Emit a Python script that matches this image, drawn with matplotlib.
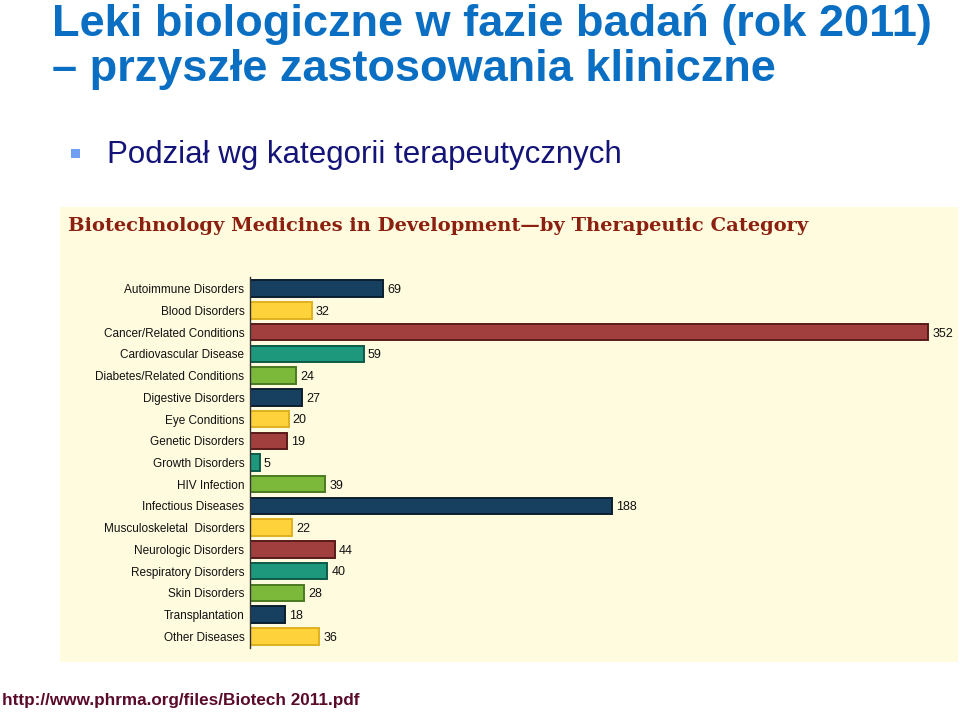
import matplotlib.pyplot as plt
from matplotlib.patches import Rectangle

categories = ["Autoimmune Disorders", "Blood Disorders", "Cancer/Related Conditions",
              "Cardiovascular Disease", "Diabetes/Related Conditions", "Digestive Disorders",
              "Eye Conditions", "Genetic Disorders", "Growth Disorders", "HIV Infection",
              "Infectious Diseases", "Musculoskeletal  Disorders", "Neurologic Disorders",
              "Respiratory Disorders", "Skin Disorders", "Transplantation", "Other Diseases"]
values = [69, 32, 352, 59, 24, 27, 20, 19, 5, 39, 188, 22, 44, 40, 28, 18, 36]

palette = ["#173f60", "#fdd23a", "#a13f3f", "#1d987c", "#7cb83a"]
edges = ["#0c1f30", "#e0b020", "#5a1a1a", "#0e5a48", "#4a7a20"]

W, H = 960, 713
fig = plt.figure(figsize=(W / 100, H / 100), dpi=100)
fig.patch.set_facecolor("white")

def fx(px):
    return px / W

def fy(py):
    return 1 - py / H

# cream panel behind the chart
fig.patches.append(Rectangle((fx(60), fy(662)), fx(958) - fx(60), fy(207) - fy(662),
                             transform=fig.transFigure, facecolor="#fffbde",
                             edgecolor="none", zorder=-5))

fig.text(fx(52), fy(36), "Leki biologiczne w fazie badań (rok 2011)", fontsize=32.5,
         fontweight="bold", color="#0a6fc2", family="Liberation Sans", va="baseline")
fig.text(fx(52), fy(81), "– przyszłe zastosowania kliniczne", fontsize=32.5,
         fontweight="bold", color="#0a6fc2", family="Liberation Sans", va="baseline")
fig.patches.append(Rectangle((fx(71), fy(158)), fx(9), 9 / H, transform=fig.transFigure,
                             facecolor="#6f9ff0", edgecolor="none"))
fig.text(fx(107), fy(163), "Podział wg kategorii terapeutycznych", fontsize=22.5,
         color="#141478", family="Liberation Sans", va="baseline")
fig.text(fx(68), fy(231), "Biotechnology Medicines in Development\u2014by Therapeutic Category",
         fontsize=14, fontweight="bold", color="#8b2010", family="DejaVu Serif",
         va="baseline")
fig.text(fx(2), fy(700), "http://www.phrma.org/files/Biotech 2011.pdf", fontsize=12.3,
         fontweight="bold", color="#5a0a2a", family="Liberation Sans", va="center")

ax = fig.add_axes([fx(250), fy(648), fx(940) - fx(250), fy(277) - fy(648)])
ax.set_facecolor("none")
ax.set_zorder(2)
ypos = list(range(len(categories)))
cols = [palette[i % 5] for i in ypos]
ecols = [edges[i % 5] for i in ypos]
ax.barh(ypos, values, height=0.76, color=cols, edgecolor=ecols, linewidth=1.4)
for y, v in zip(ypos, values):
    ax.annotate(str(v), (v, y), xytext=(3, -1), textcoords="offset points",
                fontsize=9, color="#111111", va="center", ha="left",
                family="Liberation Sans")

ax.set_xlim(0, 358)
ax.set_ylim(len(categories) - 0.46, -0.54)
ax.set_yticks(ypos)
ax.set_yticklabels(categories, fontsize=8.5, family="Liberation Sans", color="#111111")
ax.tick_params(axis="y", length=0, pad=4)
ax.set_xticks([])
for s in ["top", "right", "bottom"]:
    ax.spines[s].set_visible(False)
ax.spines["left"].set_color("#333333")
ax.spines["left"].set_linewidth(1.0)

fig.savefig("out.png", dpi=100)
